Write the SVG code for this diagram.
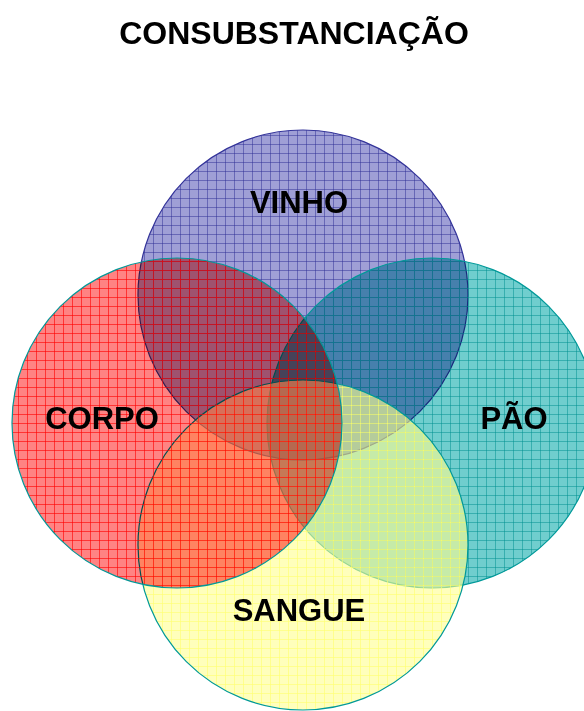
<svg xmlns="http://www.w3.org/2000/svg" width="584" height="711" viewBox="0 0 584 711">
<style>
.lbl{font-family:"Liberation Sans",Arial,sans-serif;font-weight:bold;fill:#000;text-anchor:middle}
.ttl{font-size:32px}
.node{font-size:31px}
.edge{stroke-width:1.2}
.mul{mix-blend-mode:multiply}
</style>
<defs>
<pattern id="gBlue" patternUnits="userSpaceOnUse" width="9" height="9">
<path d="M0.5 0V9M0 0.5H9" stroke="#303096" stroke-opacity="0.5" stroke-width="1" fill="none"/>
</pattern>
<pattern id="gTeal" patternUnits="userSpaceOnUse" width="9" height="9">
<path d="M0.5 0V9M0 0.5H9" stroke="#009090" stroke-opacity="0.5" stroke-width="1" fill="none"/>
</pattern>
<pattern id="gRed" patternUnits="userSpaceOnUse" width="9" height="9">
<path d="M0.5 0V9M0 0.5H9" stroke="#ff0000" stroke-opacity="0.6" stroke-width="1" fill="none"/>
</pattern>
<pattern id="gYellow" patternUnits="userSpaceOnUse" width="9" height="9">
<path d="M0.5 0V9M0 0.5H9" stroke="#ffff70" stroke-opacity="0.6" stroke-width="1" fill="none"/>
</pattern>
</defs>
<rect width="584" height="711" fill="#fff"/>
<text class="lbl ttl" x="294" y="44">CONSUBSTANCIAÇÃO</text>
<g id="vinho">
<circle cx="303" cy="295" r="165" fill="#5a5ab8" fill-opacity="0.58"/>
<circle cx="303" cy="295" r="165" fill="url(#gBlue)" stroke="#333399" class="edge"/>
</g>
<g id="pao">
<circle cx="432" cy="423" r="165" fill="#00a8a8" fill-opacity="0.56" class="mul"/>
<circle cx="432" cy="423" r="165" fill="url(#gTeal)" stroke="#009999" class="edge"/>
</g>
<g id="sangue">
<circle cx="303" cy="545" r="165" fill="#ffff90" fill-opacity="0.6"/>
<circle cx="303" cy="545" r="165" fill="url(#gYellow)" stroke="#009999" class="edge"/>
</g>
<g id="corpo">
<circle cx="177" cy="423" r="165" fill="#ff2a2a" fill-opacity="0.58" class="mul"/>
<circle cx="177" cy="423" r="165" fill="url(#gRed)" stroke="#009999" class="edge"/>
</g>
<g id="connectors"></g>
<g id="labels">
<text class="lbl node" x="299" y="213">VINHO</text>
<text class="lbl node" x="102" y="429">CORPO</text>
<text class="lbl node" x="514" y="429">PÃO</text>
<text class="lbl node" x="299" y="621">SANGUE</text>
</g>
</svg>
